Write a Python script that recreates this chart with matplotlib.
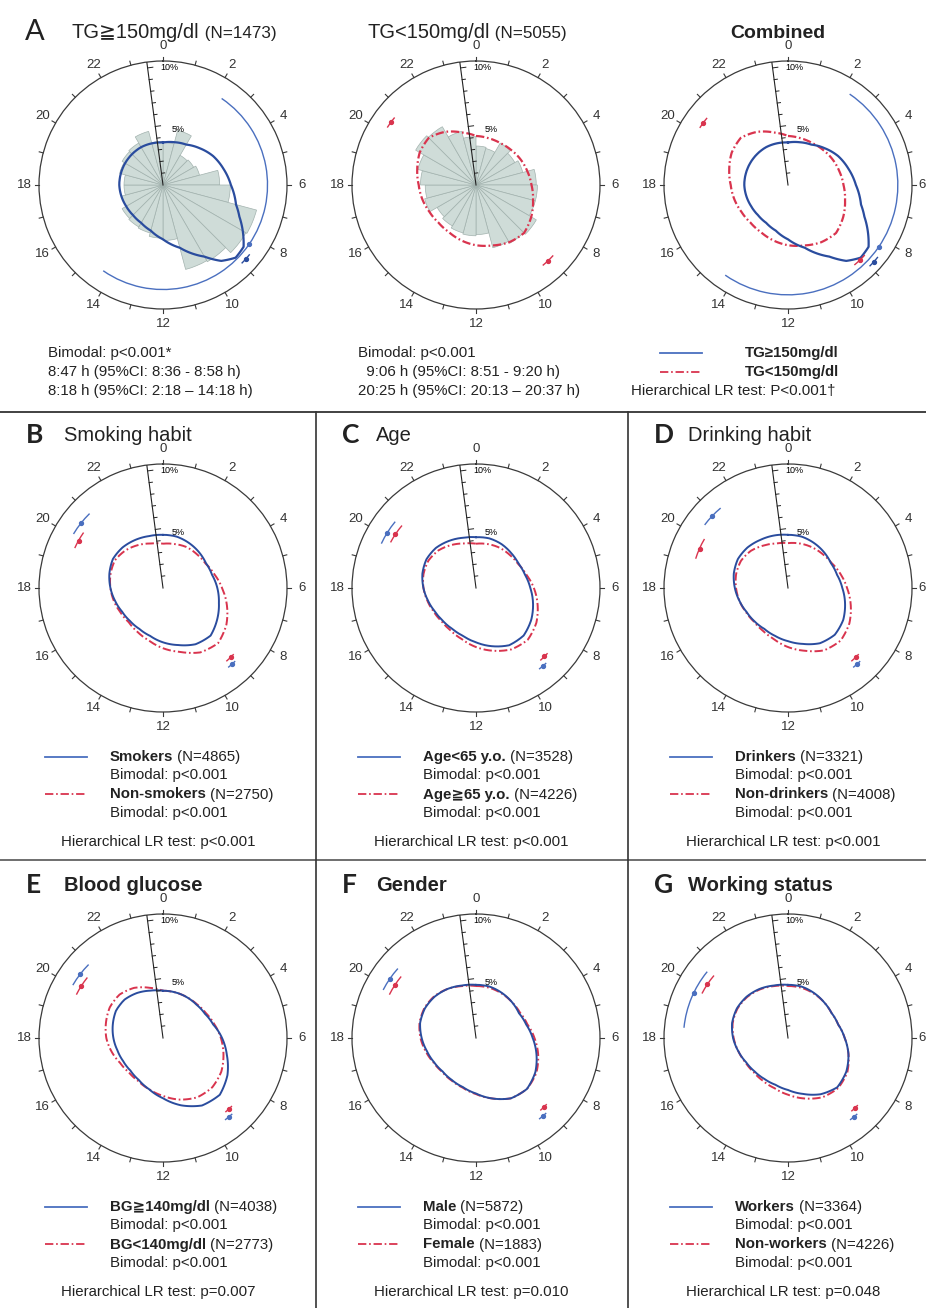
import numpy as np
import matplotlib.pyplot as plt

plt.rcParams['font.family'] = ['Liberation Sans', 'DejaVu Sans']
plt.rcParams['lines.scale_dashes'] = False

# ---------------- data ----------------
hours = list(range(24))

# row A: rose histograms (% per hour bin)
tg_hi_bars = [3.6, 4.8, 2.9, 3.0, 3.2, 4.8, 5.7, 8.2, 8.1, 7.5, 7.4, 4.7,
              4.5, 4.2, 4.1, 4.0, 3.6, 3.3, 3.3, 3.8, 4.0, 4.1, 4.7, 3.7]
tg_lo_bars = [3.3, 3.2, 4.1, 3.8, 4.1, 5.1, 5.2, 5.2, 5.9, 5.7, 5.5, 4.2,
              4.3, 4.2, 4.0, 3.8, 4.5, 4.3, 4.7, 5.1, 5.9, 5.7, 4.7, 4.1]

# row A: fitted density curves
tg_hi_hours = [0, 1, 2, 3, 4, 5, 6, 7, 7.5, 8, 8.5, 9, 9.5, 10, 11, 12, 13,
               14, 15, 16, 17, 18, 19, 20, 21, 22, 23]
tg_hi_curve = [3.6, 3.75, 3.95, 4.4, 4.9, 5.3, 5.75, 6.4, 7.0, 7.8, 8.6, 8.7,
               8.1, 7.0, 5.5, 4.6, 4.0, 3.7, 3.6, 3.6, 3.65, 3.7, 3.7, 3.7,
               3.7, 3.7, 3.65]
tg_lo_curve = [4.15, 4.1, 4.1, 4.2, 4.35, 4.5, 4.7, 5.0, 5.4, 5.75, 5.6, 5.3,
               5.1, 4.85, 4.6, 4.5, 4.55, 4.7, 4.85, 5.15, 5.5, 5.65, 5.2, 4.6]

# peak times with 95% CI (hours): (peak, low, high)
tg_hi_peaks = [(8.78, 8.6, 8.97), (8.3, 2.3, 14.3)]
tg_lo_peaks = [(9.1, 8.85, 9.33), (20.42, 20.22, 20.62)]

# rows B-G: curves for group 1 (blue) and group 2 (red)
smk_blue = [4.5, 4.5, 4.4, 4.3, 4.2, 4.3, 4.6, 4.9, 5.3, 5.7, 5.5, 5.0,
            4.6, 4.2, 4.0, 3.95, 4.0, 4.2, 4.45, 4.7, 4.9, 4.85, 4.7, 4.55]
smk_red = [3.75, 3.85, 4.0, 4.05, 4.15, 4.5, 5.0, 5.6, 6.2, 6.6, 6.3, 5.6,
           5.1, 4.6, 4.3, 4.1, 4.15, 4.3, 4.45, 4.6, 4.7, 4.5, 4.2, 3.9]
age_blue = [4.3, 4.35, 4.3, 4.2, 4.15, 4.3, 4.6, 5.0, 5.4, 5.7, 5.6, 5.1,
            4.6, 4.2, 4.0, 3.95, 4.0, 4.2, 4.45, 4.7, 4.85, 4.8, 4.6, 4.4]
age_red = [3.75, 3.85, 3.95, 4.0, 4.1, 4.4, 4.9, 5.4, 5.9, 6.2, 6.0, 5.5,
           5.0, 4.5, 4.2, 4.05, 4.1, 4.25, 4.45, 4.6, 4.65, 4.5, 4.2, 3.9]
drk_blue = [4.5, 4.5, 4.4, 4.3, 4.2, 4.3, 4.6, 5.0, 5.4, 5.6, 5.4, 4.9,
            4.5, 4.2, 4.0, 4.0, 4.05, 4.25, 4.5, 4.75, 4.9, 4.85, 4.7, 4.6]
drk_red = [3.8, 3.9, 4.0, 4.1, 4.25, 4.6, 5.0, 5.5, 6.0, 6.3, 6.1, 5.5,
           5.0, 4.5, 4.2, 4.05, 4.1, 4.25, 4.4, 4.55, 4.6, 4.45, 4.15, 3.9]
bg_blue = [4.0, 4.0, 4.0, 4.0, 4.1, 4.4, 5.0, 5.6, 6.3, 6.8, 6.6, 5.9,
           5.1, 4.5, 4.1, 3.9, 3.9, 4.0, 4.2, 4.4, 4.6, 4.6, 4.4, 4.15]
bg_red = [4.0, 4.0, 4.0, 4.05, 4.2, 4.5, 4.9, 5.3, 5.7, 5.9, 5.8, 5.4,
          4.9, 4.5, 4.2, 4.1, 4.2, 4.5, 4.8, 5.0, 5.2, 5.2, 4.9, 4.4]
sex_blue = [4.5, 4.5, 4.4, 4.3, 4.2, 4.4, 4.8, 5.3, 5.8, 6.1, 5.9, 5.3,
            4.7, 4.3, 4.1, 4.0, 4.1, 4.3, 4.6, 4.9, 5.0, 4.95, 4.8, 4.6]
sex_red = [4.4, 4.4, 4.35, 4.3, 4.3, 4.5, 4.95, 5.45, 5.9, 6.1, 5.9, 5.3,
           4.75, 4.35, 4.15, 4.05, 4.15, 4.4, 4.7, 4.95, 5.05, 5.0, 4.8, 4.55]
wrk_blue = [4.5, 4.5, 4.4, 4.3, 4.25, 4.4, 4.8, 5.3, 5.7, 5.9, 5.5, 4.9,
            4.4, 4.1, 4.0, 4.0, 4.1, 4.35, 4.65, 4.9, 5.0, 4.95, 4.8, 4.6]
wrk_red = [4.4, 4.4, 4.35, 4.3, 4.25, 4.4, 4.8, 5.3, 5.8, 6.0, 5.8, 5.3,
           4.8, 4.4, 4.2, 4.1, 4.15, 4.35, 4.6, 4.85, 4.95, 4.9, 4.75, 4.55]

smk_blue_pk = [(9.2, 9.05, 9.35), (20.55, 20.1, 21.0)]
smk_red_pk = [(9.05, 8.9, 9.25), (19.95, 19.65, 20.3)]
age_blue_pk = [(9.3, 9.15, 9.45), (20.1, 19.7, 20.6)]
age_red_pk = [(9.0, 8.85, 9.2), (20.25, 19.9, 20.65)]
drk_blue_pk = [(9.2, 9.05, 9.35), (20.9, 20.5, 21.3)]
drk_red_pk = [(9.05, 8.9, 9.25), (19.6, 19.2, 20.0)]
bg_blue_pk = [(9.35, 9.2, 9.5), (20.5, 20.05, 20.95)]
bg_red_pk = [(9.15, 9.0, 9.3), (20.15, 19.8, 20.55)]
sex_blue_pk = [(9.3, 9.15, 9.45), (20.3, 19.85, 20.75)]
sex_red_pk = [(9.05, 8.9, 9.2), (20.2, 19.8, 20.6)]
wrk_blue_pk = [(9.35, 9.2, 9.5), (19.7, 18.4, 20.6)]
wrk_red_pk = [(9.1, 8.95, 9.25), (20.25, 19.85, 20.65)]

panel_letters = ['B', 'C', 'D', 'E', 'F', 'G']
panel_titles = ['Smoking habit', 'Age', 'Drinking habit',
                'Blood glucose', 'Gender', 'Working status']
group1_labels = ['Smokers', 'Age<65 y.o.', 'Drinkers',
                 'BG\u2267140mg/dl', 'Male', 'Workers']
group1_n = ['4865', '3528', '3321', '4038', '5872', '3364']
group2_labels = ['Non-smokers', 'Age\u226765 y.o.', 'Non-drinkers',
                 'BG<140mg/dl', 'Female', 'Non-workers']
group2_n = ['2750', '4226', '4008', '2773', '1883', '4226']
lr_tests = ['p<0.001', 'p<0.001', 'p<0.001', 'p=0.007', 'p=0.010', 'p=0.048']

# ---------------- layout / style ----------------
W, H = 926, 1308
BLUE, BLUE_L, RED = '#2a4c9e', '#4a6fbf', '#d9344e'
INK = '#222222'
DASH = (0, (6, 2, 1.2, 2))
RMAX, R_PX = 10.5, 124
col_x = [163, 476, 788]
row_y = [185, 588, 1038]
FS = 10.8

fig = plt.figure(figsize=(W / 100, H / 100), dpi=100)
bg = fig.add_axes([0, 0, 1, 1])
bg.set_xlim(0, W)
bg.set_ylim(H, 0)
bg.axis('off')


def th(h):
    return np.asarray(h, dtype=float) * 2 * np.pi / 24


def smooth(line, n=30):
    line.get_path()._interpolation_steps = n
    return line


def polar_panel(cx, cy):
    ax = fig.add_axes([(cx - R_PX) / W, 1 - (cy + R_PX) / H,
                       2 * R_PX / W, 2 * R_PX / H], projection='polar')
    ax.set_theta_zero_location('N')
    ax.set_theta_direction(-1)
    ax.set_ylim(0, RMAX)
    ax.set_xticks([])
    ax.set_yticks([])
    ax.grid(False)
    ax.spines['polar'].set_color('#3a3a3a')
    ax.spines['polar'].set_linewidth(0.9)
    for h in hours:
        ax.plot([th(h)] * 2, [RMAX, RMAX + 0.35], color='#3a3a3a', lw=0.8,
                clip_on=False)
    for h in range(0, 24, 2):
        r = 11.75
        if h == 6 and cx > 700:
            r = 11.35      # keep the right-most label inside the figure
        ax.text(th(h), r, str(h), ha='center', va='center', fontsize=9.5,
                color='#333333')
    # radial scale
    t0 = float(th(-0.5))
    ax.plot([t0, t0], [0, RMAX], color=INK, lw=0.8, zorder=4)
    u = np.array([np.sin(t0), np.cos(t0)])
    p = np.array([np.cos(t0), -np.sin(t0)])
    for v in range(1, 11):
        L = 0.45 if v in (5, 10) else 0.28
        e = v * u + L * p
        ax.plot([t0, np.arctan2(e[0], e[1])], [v, np.hypot(*e)],
                color=INK, lw=0.7, zorder=4)
    ax.text(th(0.2), 10.0, '10%', ha='center', va='center', fontsize=6.5)
    ax.text(th(1.0), 4.9, '5%', ha='center', va='center', fontsize=6.5)
    return ax


def curve(ax, hh, rr, color, ls='-', lw=1.4):
    t = np.append(th(hh), 2 * np.pi)
    r = np.append(rr, rr[0])
    smooth(ax.plot(t, r, color=color, ls=ls, lw=lw, zorder=3)[0])


def peaks(ax, pk, radii, color, lw=1.0):
    for (m, lo, hi), r in zip(pk, radii):
        smooth(ax.plot(th([lo, hi]), [r, r], color=color, lw=lw,
                       zorder=3)[0], 60)
        ax.plot(th(m), r, 'o', color=color, ms=2.8, zorder=3)


def rose(ax, vals):
    ax.bar(th(hours), vals, width=2 * np.pi / 24, align='edge',
           color='#cfdcd8', edgecolor='#a2b2ae', lw=0.5, zorder=1)


def two_part(x, y, a, b, size_a, size_b, wa='normal', wb='normal'):
    t = bg.text(x, y, a, fontsize=size_a, fontweight=wa, va='baseline',
                color=INK)
    lift = 0.21 * (size_a - size_b)
    bg.annotate(b, xy=(1, 0), xycoords=t, xytext=(0, lift),
                textcoords='offset points', va='bottom', fontsize=size_b,
                fontweight=wb, color=INK)


# ---------------- row A ----------------
ax1 = polar_panel(col_x[0], row_y[0])
rose(ax1, tg_hi_bars)
curve(ax1, tg_hi_hours, tg_hi_curve, BLUE, lw=1.6)
peaks(ax1, tg_hi_peaks[:1], [9.4], BLUE)
peaks(ax1, tg_hi_peaks[1:], [8.85], BLUE_L)

ax2 = polar_panel(col_x[1], row_y[0])
rose(ax2, tg_lo_bars)
curve(ax2, hours, tg_lo_curve, RED, ls=DASH, lw=1.6)
peaks(ax2, tg_lo_peaks, [8.85, 8.95], RED)

ax3 = polar_panel(col_x[2], row_y[0])
curve(ax3, hours, tg_lo_curve, RED, ls=DASH, lw=1.6)
curve(ax3, tg_hi_hours, tg_hi_curve, BLUE, lw=1.6)
peaks(ax3, tg_hi_peaks[:1], [9.75], BLUE)
peaks(ax3, tg_hi_peaks[1:], [9.3], BLUE_L)
peaks(ax3, tg_lo_peaks, [8.8, 8.9], RED)

bg.text(25, 40, 'A', fontsize=21, family='Lato', va='baseline', color=INK)
two_part(72, 38, 'TG\u2267150mg/dl', ' (N=1473)', 14.5, 12.3)
two_part(367, 38, 'TG<150mg/dl', ' (N=5055)', 14.5, 12.3)
bg.text(730, 38, 'Combined', fontsize=14, va='baseline', fontweight='bold',
        color=INK)

txt_a1 = ['Bimodal: p<0.001*', '8:47 h (95%CI: 8:36 - 8:58 h)',
          '8:18 h (95%CI: 2:18 \u2013 14:18 h)']
txt_a2 = ['Bimodal: p<0.001', '  9:06 h (95%CI: 8:51 - 9:20 h)',
          '20:25 h (95%CI: 20:13 \u2013 20:37 h)']
for i, (s1, s2) in enumerate(zip(txt_a1, txt_a2)):
    bg.text(48, 353 + 19 * i, s1, fontsize=FS, va='center', color=INK)
    bg.text(358, 353 + 19 * i, s2, fontsize=FS, va='center', color=INK)
bg.plot([660, 702], [353, 353], color=BLUE_L, lw=1.3)
bg.plot([660, 702], [372, 372], color=RED, lw=1.3, ls=DASH)
bg.text(745, 353, 'TG\u2265150mg/dl', fontsize=FS, fontweight='bold',
        va='center', color=INK)
bg.text(745, 372, 'TG<150mg/dl', fontsize=FS, fontweight='bold',
        va='center', color=INK)
bg.text(631, 391, 'Hierarchical LR test: P<0.001\u2020', fontsize=FS,
        va='center', color=INK)

# ---------------- rows B-G ----------------
curves = [(smk_blue, smk_red), (age_blue, age_red), (drk_blue, drk_red),
          (bg_blue, bg_red), (sex_blue, sex_red), (wrk_blue, wrk_red)]
pks = [(smk_blue_pk, smk_red_pk), (age_blue_pk, age_red_pk),
       (drk_blue_pk, drk_red_pk), (bg_blue_pk, bg_red_pk),
       (sex_blue_pk, sex_red_pk), (wrk_blue_pk, wrk_red_pk)]

for k in range(6):
    cx, cy = col_x[k % 3], row_y[1 + k // 3]
    ax = polar_panel(cx, cy)
    cb, cr = curves[k]
    curve(ax, hours, cr, RED, ls=DASH)
    curve(ax, hours, cb, BLUE)
    peaks(ax, pks[k][0], [8.7, 8.85], BLUE_L)
    peaks(ax, pks[k][1], [8.2, 8.2], RED)

    x0 = [0, 316, 628][k % 3]
    top = cy - 153
    bold = 'bold' if k >= 3 else 'normal'
    bg.text(x0 + 26, top + 8, panel_letters[k], fontsize=19, family='Lato',
            fontweight='bold', va='baseline', color=INK)
    bg.text(x0 + (64 if k % 3 == 0 else 60), top + 6, panel_titles[k],
            fontsize=14.5, fontweight=bold, va='baseline', color=INK)

    y0 = cy + 169
    bg.plot([cx - 118, cx - 76], [y0, y0], color=BLUE_L, lw=1.3)
    bg.plot([cx - 118, cx - 76], [y0 + 37, y0 + 37], color=RED, lw=1.3,
            ls=DASH)
    two_part(cx - 53, y0 + 4, group1_labels[k], f' (N={group1_n[k]})',
             FS, FS, wa='bold')
    bg.text(cx - 53, y0 + 18.5, 'Bimodal: p<0.001', fontsize=FS,
            va='center', color=INK)
    two_part(cx - 53, y0 + 41.5, group2_labels[k], f' (N={group2_n[k]})',
             FS, FS, wa='bold')
    bg.text(cx - 53, y0 + 56, 'Bimodal: p<0.001', fontsize=FS,
            va='center', color=INK)
    bg.text(cx - 5, y0 + 85, 'Hierarchical LR test: ' + lr_tests[k],
            fontsize=FS, ha='center', va='center', color=INK)

# separators
bg.plot([0, W], [412, 412], color='#333333', lw=1.3)
bg.plot([0, W], [860, 860], color='#555555', lw=1.2)
for x in (316, 628):
    bg.plot([x, x], [412, H], color='#333333', lw=1.2)

fig.savefig('out.png', dpi=100)
